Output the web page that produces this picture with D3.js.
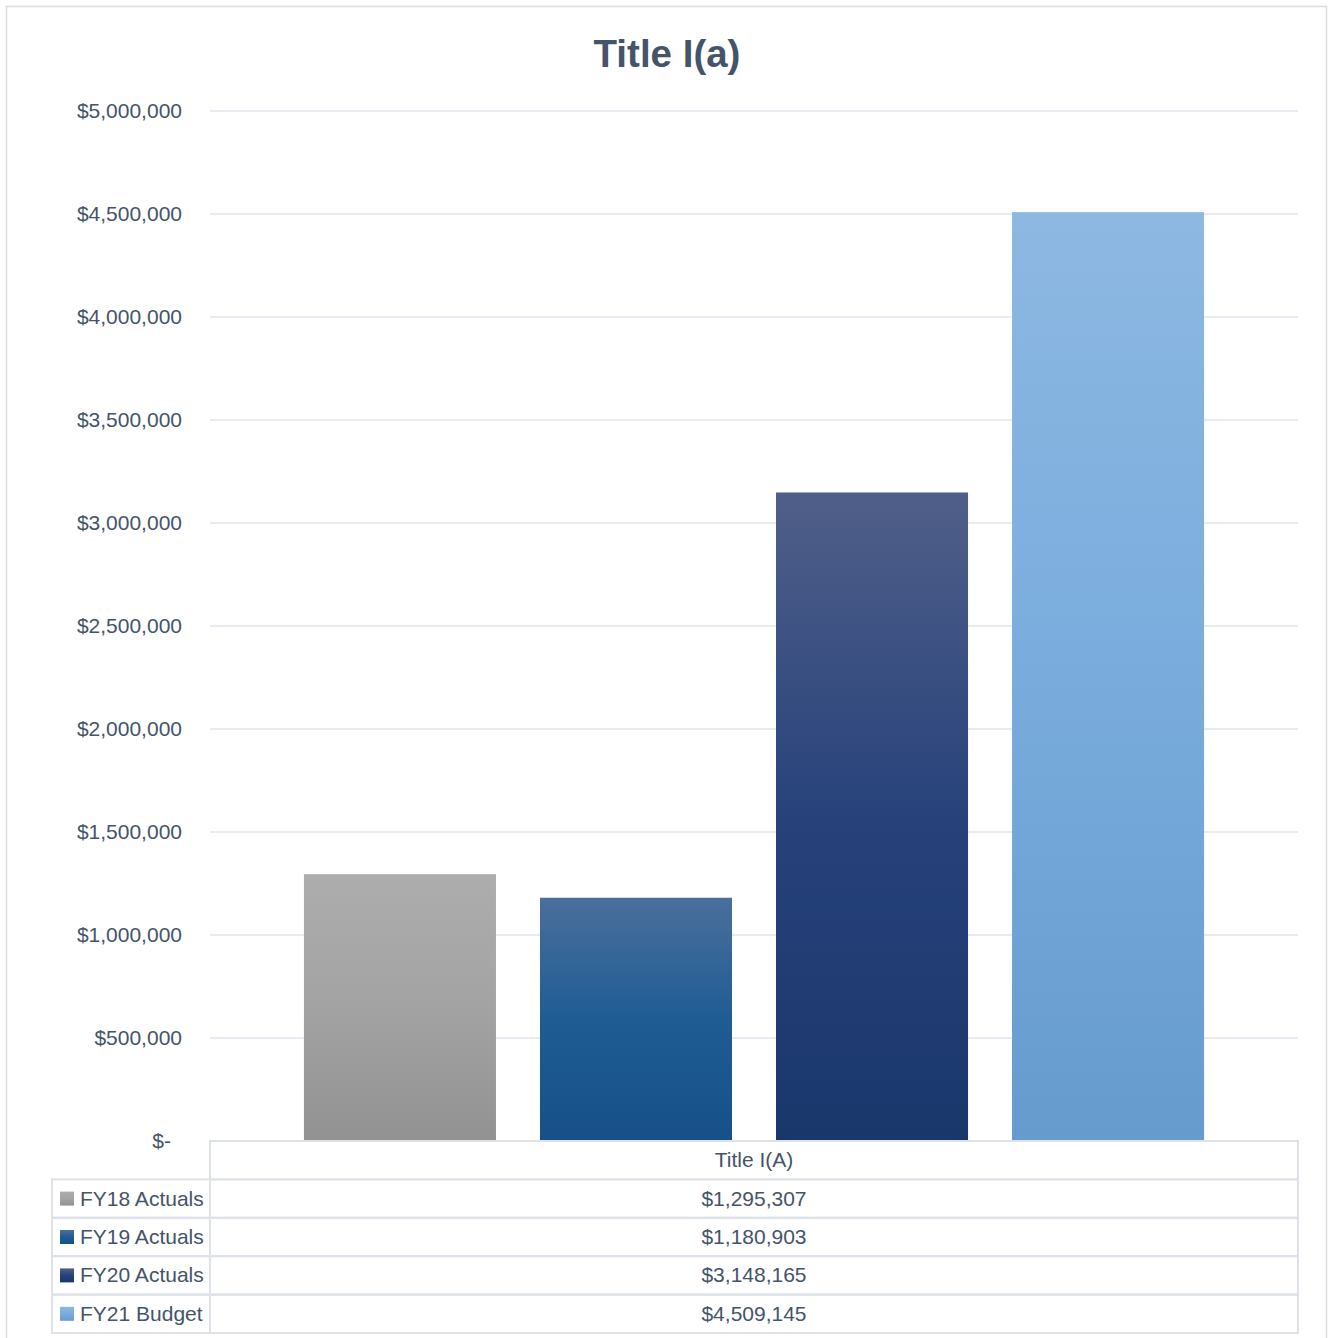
<!DOCTYPE html>
<html>
<head>
<meta charset="utf-8">
<script src="https://cdn.jsdelivr.net/npm/d3@7"></script>
<style>
  html, body { margin: 0; padding: 0; background: #fff; }
  svg { display: block; }
  text { font-family: "Liberation Sans", Arial, sans-serif; fill: #44546a; }
</style>
</head>
<body>
<svg id="chart" width="1328" height="1338"></svg>
<script>
// Chart data
const category = "Title I(A)";
const seriesNames = ["FY18 Actuals", "FY19 Actuals", "FY20 Actuals", "FY21 Budget"];
const seriesValues = [1295307, 1180903, 3148165, 4509145];
const tickValues = [0, 500000, 1000000, 1500000, 2000000, 2500000, 3000000, 3500000, 4000000, 4500000, 5000000];
// Gradient stops per series: top, middle, bottom
const seriesGradients = [
  ["#adadad", "#a3a3a3", "#929292"],
  ["#4a6f9c", "#1f5c94", "#175088"],
  ["#505f89", "#27427b", "#1a376c"],
  ["#8db8e2", "#79acdd", "#669bce"]
];

const W = 1328, H = 1338;
const plot = { left: 210, right: 1298, top: 111, bottom: 1141 };
const labelSize = "21px";
const svg = d3.select("#chart");

// Outer chart frame
svg.append("rect")
  .attr("x", 6.5).attr("y", 6.5)
  .attr("width", 1320).attr("height", 1345)
  .attr("fill", "#fff")
  .attr("stroke", "#dadde2").attr("stroke-width", 1.5);

// Gradients
const defs = svg.append("defs");
seriesGradients.forEach((stops, i) => {
  const g = defs.append("linearGradient")
    .attr("id", "grad" + i)
    .attr("x1", 0).attr("y1", 0).attr("x2", 0).attr("y2", 1);
  [0, 0.5, 1].forEach((o, j) => {
    g.append("stop").attr("offset", o).attr("stop-color", stops[j]);
  });
});

// Scales
const y = d3.scaleLinear().domain([0, 5000000]).range([plot.bottom, plot.top]);
const x = d3.scaleBand()
  .domain(seriesNames)
  .range([plot.left, plot.right])
  .paddingInner(0.1864)
  .paddingOuter(0.398);

// Title
svg.append("text")
  .attr("x", 667).attr("y", 67)
  .attr("text-anchor", "middle")
  .style("font-size", "38.5px")
  .style("font-weight", "bold")
  .text("Title I(a)");

// Gridlines
svg.append("g")
  .selectAll("line")
  .data(tickValues)
  .join("line")
  .attr("x1", plot.left).attr("x2", plot.right)
  .attr("y1", d => y(d)).attr("y2", d => y(d))
  .attr("stroke", "#e1e5ec").attr("stroke-width", 1.6);

// Y axis labels
const fmt = d3.format("$,.0f");
const yAxis = d3.axisLeft(y)
  .tickValues(tickValues)
  .tickSize(0)
  .tickPadding(0)
  .tickFormat(d => d === 0 ? "$-" : fmt(d));
const yg = svg.append("g")
  .attr("transform", `translate(182,0)`)
  .call(yAxis);
yg.select(".domain").remove();
yg.selectAll("text")
  .style("font-size", labelSize)
  .style("font-family", "\"Liberation Sans\", Arial, sans-serif")
  .attr("fill", "#44546a")
  .attr("dx", d => d === 0 ? -11 : 0);

// Bars
svg.append("g")
  .selectAll("rect")
  .data(seriesValues)
  .join("rect")
  .attr("x", (d, i) => x(seriesNames[i]))
  .attr("width", x.bandwidth())
  .attr("y", d => y(d))
  .attr("height", d => y(0) - y(d))
  .attr("fill", (d, i) => `url(#grad${i})`);

// Data table
const rowH = 38.4;
const tableTop = plot.bottom;
const tableLeft = 52;
const lineColor = "#dde1e8";
const tbl = svg.append("g");

// Header row (category)
tbl.append("rect")
  .attr("x", plot.left).attr("y", tableTop)
  .attr("width", plot.right - plot.left).attr("height", rowH)
  .attr("fill", "none").attr("stroke", lineColor).attr("stroke-width", 2);
tbl.append("text")
  .attr("x", (plot.left + plot.right) / 2)
  .attr("y", tableTop + rowH / 2 + 7)
  .attr("text-anchor", "middle")
  .style("font-size", labelSize)
  .text(category);

// Series rows
const rows = tbl.selectAll("g.row")
  .data(seriesNames)
  .join("g")
  .attr("class", "row")
  .attr("transform", (d, i) => `translate(0,${tableTop + rowH * (i + 1)})`);

rows.append("rect")
  .attr("x", tableLeft).attr("y", 0)
  .attr("width", plot.left - tableLeft).attr("height", rowH)
  .attr("fill", "none").attr("stroke", lineColor).attr("stroke-width", 2);
rows.append("rect")
  .attr("x", plot.left).attr("y", 0)
  .attr("width", plot.right - plot.left).attr("height", rowH)
  .attr("fill", "none").attr("stroke", lineColor).attr("stroke-width", 2);

// Legend keys
rows.append("rect")
  .attr("x", 60).attr("y", rowH / 2 - 7)
  .attr("width", 14).attr("height", 14)
  .attr("fill", (d, i) => `url(#grad${i})`);
rows.append("text")
  .attr("x", 80).attr("y", rowH / 2 + 7)
  .style("font-size", labelSize)
  .text(d => d);

// Values
rows.append("text")
  .attr("x", (plot.left + plot.right) / 2)
  .attr("y", rowH / 2 + 7)
  .attr("text-anchor", "middle")
  .style("font-size", labelSize)
  .text((d, i) => fmt(seriesValues[i]));
</script>
</body>
</html>
